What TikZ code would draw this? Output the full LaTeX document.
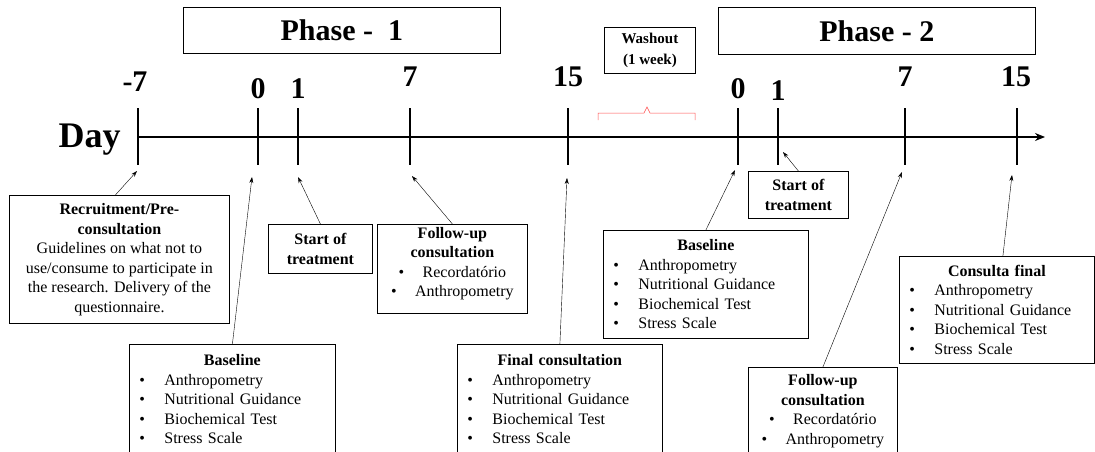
\documentclass[tikz,border=0pt]{standalone}
\usepackage{fontspec}
\setmainfont{Liberation Serif}
\usetikzlibrary{positioning,arrows.meta}
\newcommand{\bitem}[1]{\hspace*{10pt}\makebox[25pt][l]{\textbullet}#1}
\newcommand{\citem}[1]{\makebox[24pt][l]{\textbullet}#1}
\newcommand{\head}[1]{\makebox[\linewidth]{\textbf{#1}}}

\begin{document}
\begin{tikzpicture}[x=1pt, y=-1pt,
    box/.style={draw, line width=0.8pt, anchor=north west, inner sep=0pt, align=center, font=\fontsize{16}{19.5}\selectfont},
    listbox/.style={box, align=left},
    phasebox/.style={draw, line width=0.8pt, anchor=north west, inner sep=0pt, font=\fontsize{30}{32}\selectfont\bfseries},
    daynum/.style={anchor=base, font=\fontsize{30}{32}\selectfont\bfseries},
    tick/.style={line width=2.6pt},
    arrow/.style={-{Stealth[length=6pt, width=4pt]}, line width=0.4pt}
]
    \useasboundingbox (0,0) rectangle (1095,452);
    \clip (0,0) rectangle (1095,452);

    % phases and washout
    \node[phasebox, minimum width=317pt, minimum height=46pt] (ph1) at (183,7) {Phase -\enspace 1};
    \node[phasebox, minimum width=317pt, minimum height=47pt] (ph2) at (718,7) {Phase - 2};
    \node[box, minimum width=91pt, minimum height=46pt, font=\fontsize{15}{21}\selectfont\bfseries] (wash) at (604,27) {Washout\\(1 week)};
    \draw[red!70, line width=0.5pt] (598,120) -- (598,113) -- (644,113) -- (647,107) -- (650,113) -- (695,113) -- (695,120);

    % time axis
    \node[anchor=base west, font=\fontsize{36}{38}\selectfont\bfseries] (day) at (55,147) {Day};
    \draw[-{Stealth[length=10pt, width=8pt]}, line width=2.4pt] (138,137) -- (1045,137);
    \draw[tick] (138,108) -- (138,165);
    \draw[tick] (258,108) -- (258,165);
    \draw[tick] (298,108) -- (298,165);
    \draw[tick] (410,108) -- (410,165);
    \draw[tick] (568,108) -- (568,165);
    \draw[tick] (738,108) -- (738,165);
    \draw[tick] (778,108) -- (778,165);
    \draw[tick] (905,108) -- (905,165);
    \draw[tick] (1017,108) -- (1017,165);

    \node[daynum] (dm7) at (135,92) {-7};
    \node[daynum] (d0) at (258,98) {0};
    \node[daynum] (d1) at (298,99) {1};
    \node[daynum] (d7) at (410,87) {7};
    \node[daynum] (d15) at (568,87) {15};
    \node[daynum] (e0) at (738,98) {0};
    \node[daynum] (e1) at (778,100) {1};
    \node[daynum] (e7) at (905,87) {7};
    \node[daynum] (e15) at (1016,86) {15};

    % arrow targets
    \coordinate (tm7) at (137,171);
    \coordinate (t0) at (252,177);
    \coordinate (t1) at (298,177);
    \coordinate (t7) at (412,176);
    \coordinate (t15) at (567,178);
    \coordinate (u0) at (735,170);
    \coordinate (u1) at (783,152);
    \coordinate (u7) at (902,172);
    \coordinate (u15) at (1012,175);

    % phase 1 boxes
    \node[box, minimum width=220pt, minimum height=128pt] (rec) at (9,195)
        {\textbf{Recruitment/Pre-}\\\textbf{consultation}\\Guidelines on what not to\\use/consume to participate in\\the research. Delivery of the\\questionnaire.};
    \node[box, minimum width=104pt, minimum height=49pt, font=\fontsize{16}{19.5}\selectfont\bfseries] (start1) at (268,224) {Start of\\treatment};
    \node[listbox, text width=206pt, minimum height=110pt] (base1) at (129,344)
        {\head{Baseline}\\\bitem{Anthropometry}\\\bitem{Nutritional Guidance}\\\bitem{Biochemical Test}\\\bitem{Stress Scale}};
    \node[box, minimum width=150pt, minimum height=89pt] (follow1) at (377,224)
        {\textbf{Follow-up}\\\textbf{consultation}\\\citem{Recordatório}\\\citem{Anthropometry}\\[-6pt]};
    \node[listbox, text width=205pt, minimum height=110pt] (final1) at (457,344)
        {\head{Final consultation}\\\bitem{Anthropometry}\\\bitem{Nutritional Guidance}\\\bitem{Biochemical Test}\\\bitem{Stress Scale}};

    % phase 2 boxes
    \node[listbox, text width=205pt, minimum height=108pt] (base2) at (603,230)
        {\head{Baseline}\\\bitem{Anthropometry}\\\bitem{Nutritional Guidance}\\\bitem{Biochemical Test}\\\bitem{Stress Scale}};
    \node[box, minimum width=100pt, minimum height=47pt, font=\fontsize{16}{19.5}\selectfont\bfseries] (start2) at (748,171) {Start of\\treatment};
    \node[box, minimum width=149pt, minimum height=88pt] (follow2) at (748,367)
        {\textbf{Follow-up}\\\textbf{consultation}\\\citem{Recordatório}\\\citem{Anthropometry}};
    \node[listbox, text width=195pt, minimum height=107pt] (final2) at (899,256)
        {\head{Consulta final}\\\bitem{Anthropometry}\\\bitem{Nutritional Guidance}\\\bitem{Biochemical Test}\\\bitem{Stress Scale}};

    \draw[arrow] ([xshift=-4pt]rec.north) -- (tm7);
    \draw[arrow] (base1.north) -- (t0);
    \draw[arrow] (start1.north) -- (t1);
    \draw[arrow] (follow1.north) -- (t7);
    \draw[arrow] (final1.north) -- (t15);
    \draw[arrow] (base2.north) -- (u0);
    \draw[arrow] (start2.north) -- (u1);
    \draw[arrow] (follow2.north) -- (u7);
    \draw[arrow] ([xshift=6pt]final2.north) -- (u15);
\end{tikzpicture}
\end{document}
